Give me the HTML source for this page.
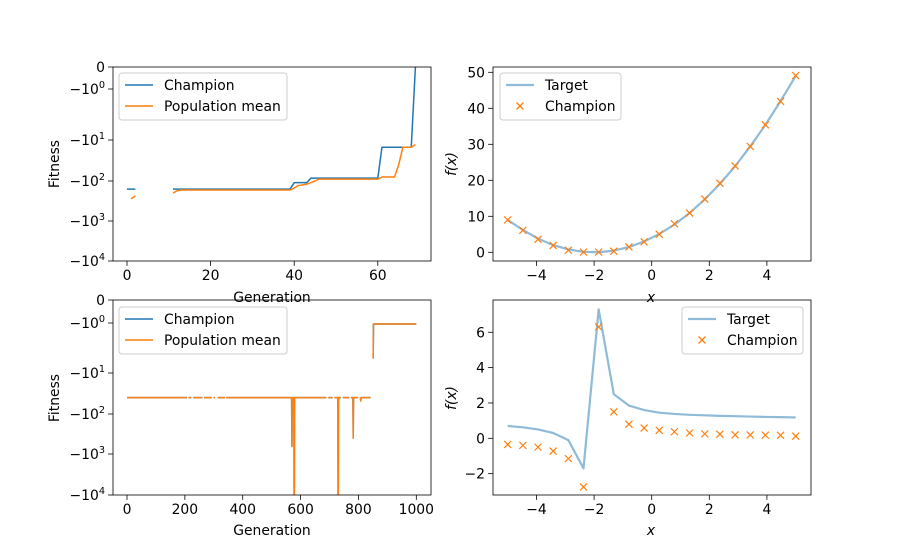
<!DOCTYPE html>
<html><head><meta charset="utf-8"><style>
body{margin:0;background:#fff}
svg{display:block;font-family:"DejaVu Sans","Liberation Sans",sans-serif}
</style></head><body>
<svg id="fig" width="900" height="556" viewBox="0 0 900 556" xmlns="http://www.w3.org/2000/svg">
<defs>
<clipPath id="c1"><rect x="113" y="67" width="318" height="194"/></clipPath>
<clipPath id="c2"><rect x="113" y="300" width="318" height="195"/></clipPath>
</defs>
</svg>
<script>
// ---------- data ----------
// Top-left: generations and fitness (null = missing)
const tlGens = [0,1,2,3,10,11,12,13,20,30,39,40,41,42,43,44,45,46,50,55,60,61,62,63,64,65,66,67,68,69];
const tlChampion = [-160,-160,-160,null,null,-160,-160,-160,-160,-160,-160,-110,-110,-110,-110,-85,-85,-85,-85,-85,-85,-15,-15,-15,-15,-15,-15,-15,-15,0];
const tlMean = [null,-280,-235,null,null,-200,-175,-168,-168,-168,-168,-150,-130,-125,-120,-110,-100,-90,-90,-90,-90,-80,-80,-80,-80,-40,-15,-15,-15,-13];
// Bottom-left: runs [start, end, value], spikes, and gaps
const blRunStart = [0,850,852];
const blRunEnd = [849,851,1000];
const blRunValue = [-40,-5,-1.05];
const blSpikeGens = [570,578,730,782,808];
const blSpikeVals = [-650,-100000,-100000,-400,-48];
const blGapStart = [208,224,262,294,305,340,690,712,740,770,800,843];
const blGapEnd = [212,228,266,298,312,342,695,716,745,773,806,849];
// Right panels: x samples
const xs = [-5,-4.474,-3.947,-3.421,-2.895,-2.368,-1.842,-1.316,-0.789,-0.263,0.263,0.789,1.316,1.842,2.368,2.895,3.421,3.947,4.474,5];
const trTarget = [9,6.2,3.8,2.0,0.8,0.14,0.02,0.47,1.46,3.0,5.1,7.7,10.9,14.7,19.0,23.9,29.4,35.4,42.0,49];
const trChampion = [9,6.1,3.6,1.9,0.6,0.05,0.05,0.3,1.5,2.9,5,7.9,10.9,14.8,19.2,24,29.4,35.4,41.9,49.1];
const brTarget = [0.7,0.62,0.5,0.3,-0.1,-1.7,7.3,2.5,1.85,1.6,1.45,1.38,1.33,1.3,1.27,1.25,1.23,1.21,1.2,1.18];
const brChampion = [-0.35,-0.4,-0.5,-0.72,-1.15,-2.75,6.3,1.5,0.8,0.58,0.45,0.37,0.3,0.25,0.23,0.2,0.19,0.18,0.17,0.12];
const tlXTicks = [0,20,40,60];
const blXTicks = [0,200,400,600,800,1000];
const rXTicks = [-4,-2,0,2,4];
const trYTicks = [0,10,20,30,40,50];
const brYTicks = [-2,0,2,4,6];
const symExps = [0,1,2,3,4];

// ---------- helpers ----------
const NS='http://www.w3.org/2000/svg';
const svg=document.getElementById('fig');
function mk(tag,attrs,parent){const e=document.createElementNS(NS,tag);for(const k in attrs)e.setAttribute(k,attrs[k]);(parent||svg).appendChild(e);return e;}
const BLUE='#1f77b4',ORANGE='#ff7f0e';

// symlog axis: anchor pixel of 0, -1, -10, ... -1e4
function symY(anchors){
  return v=>{const a=Math.abs(v);
    if(a<=1)return anchors[0]+(anchors[1]-anchors[0])*a;
    const l=Math.log10(a);const i=Math.floor(l);
    if(i>=4)return anchors[5]+(anchors[5]-anchors[4])*(l-4);
    return anchors[i+1]+(anchors[i+2]-anchors[i+1])*(l-i);};
}
const tlY=symY([67,89,140,181,221,261]);
const blY=symY([300,323,373,414,454,495]);
const tlX=g=>127+g*4.18;
const blX=g=>127+g*0.2893;
const rX=x=>651.7+x*28.8;
const trY=v=>252.3-v*3.6;
const brY=v=>438.3-v*17.67;

function frame(x,y,w,h,name){
  const r=mk('rect',{x,y,width:w,height:h,fill:'none',stroke:'#000','stroke-width':0.8});
  
}
function xtick(px,y,label,name){
  mk('line',{x1:px,x2:px,y1:y,y2:y+4.9,stroke:'#000','stroke-width':0.8});
  const t=mk('text',{x:px,y:y+19,'font-size':13.9,'text-anchor':'middle',fill:'#000'});
  t.textContent=label;
  
}
function ytick(x,py,label,name){
  mk('line',{x1:x,x2:x-4.9,y1:py,y2:py,stroke:'#000','stroke-width':0.8});
  const t=mk('text',{x:x-8,y:py+5,'font-size':13.9,'text-anchor':'end',fill:'#000'});
  t.textContent=label;
  
}
function ysym(x,py,exp,name){
  mk('line',{x1:x,x2:x-4.9,y1:py,y2:py,stroke:'#000','stroke-width':0.8});
  const t=mk('text',{x:x-8,y:py+5,'font-size':13.9,'text-anchor':'end',fill:'#000'});
  const a=mk('tspan',{},t);a.textContent='\u221210';
  const b=mk('tspan',{dy:-6,'font-size':9.7},t);b.textContent=String(exp);
  
}
function path(pts,attrs,name,clip){
  let d='',pen=false;
  pts.forEach(p=>{if(p==null){pen=false;return;}d+=(pen?'L':'M')+p[0].toFixed(2)+' '+p[1].toFixed(2);pen=true;});
  const a=Object.assign({d,fill:'none','stroke-linejoin':'round'},attrs);
  if(clip)a['clip-path']='url(#'+clip+')';
  const e=mk('path',a);
  
  return e;
}
function label(x,y,txt,name,rot,italic){
  const a={x,y,'font-size':13.9,'text-anchor':'middle',fill:'#000'};
  if(rot)a.transform='rotate(-90 '+x+' '+y+')';
  if(italic)a['font-style']='italic';
  const t=mk('text',a);t.textContent=txt;
  
}
function legend(x,y,w,entries,name){
  const g=mk('g',{});
  
  mk('rect',{x,y,width:w,height:47,rx:3,fill:'#fff','fill-opacity':0.8,stroke:'#ccc','stroke-width':1},g);
  entries.forEach((e,i)=>{
    const cy=y+12+i*21;
    const eg=mk('g',{},g);
    
    
    if(e.type==='line')mk('line',{x1:x+6,x2:x+34,y1:cy,y2:cy,stroke:e.color,'stroke-width':e.w||1.5,'stroke-opacity':e.op||1},eg);
    else mk('path',{d:`M${x+16.5} ${cy-3.5}l7 7M${x+16.5} ${cy+3.5}l7 -7`,stroke:ORANGE,'stroke-width':1.3},eg);
    const t=mk('text',{x:x+45,y:cy+5,'font-size':13.9,fill:'#000'},eg);t.textContent=e.label;
  });
}
function xmarks(xsv,ys,fx,fy,name){
  const g=mk('g',{});
  
  xsv.forEach((x,i)=>{const px=fx(x),py=fy(ys[i]);
    const m=mk('path',{d:`M${px-3.5} ${py-3.5}l7 7M${px-3.5} ${py+3.5}l7 -7`,stroke:ORANGE,'stroke-width':1.2},g);
    });
}

// ---------- top-left ----------
path(tlGens.map((g,i)=>tlChampion[i]==null?null:[tlX(g),tlY(tlChampion[i])]),{stroke:BLUE,'stroke-width':1.5},'champion-line-top','c1');
path(tlGens.map((g,i)=>tlMean[i]==null?null:[tlX(g),tlY(tlMean[i])]),{stroke:ORANGE,'stroke-width':1.5},'mean-line-top','c1');
frame(113,67,318,194,'top-left-axes');
tlXTicks.forEach(v=>xtick(tlX(v),261,String(v),'x-tick-label'));
ytick(113,67,'0','y-tick-label');
symExps.forEach(e=>ysym(113,tlY(-Math.pow(10,e)),e,'y-tick-label'));
label(272,302,'Generation','x-axis-title-top');
label(59,164,'Fitness','y-axis-title-top',true);
legend(119,73,168,[{type:'line',color:BLUE,label:'Champion'},{type:'line',color:ORANGE,label:'Population mean'}],'legend-top-left');

// ---------- bottom-left ----------
function blSeries(){
  const vals=new Array(1001).fill(null);
  blRunStart.forEach((s,i)=>{for(let g=s;g<=blRunEnd[i];g++)vals[g]=blRunValue[i];});
  blSpikeGens.forEach((g,i)=>{vals[g]=blSpikeVals[i];});
  blGapStart.forEach((s,i)=>{for(let g=s;g<=blGapEnd[i];g++)vals[g]=null;});
  return vals.map((v,g)=>v==null?null:[blX(g),blY(v)]);
}
const blPts=blSeries();
path(blPts,{stroke:BLUE,'stroke-width':1.5},'champion-line-bottom','c2');
path(blPts,{stroke:ORANGE,'stroke-width':1.5},'mean-line-bottom','c2');
frame(113,300,318,195,'bottom-left-axes');
blXTicks.forEach(v=>xtick(blX(v),495,String(v),'x-tick-label'));
ytick(113,300,'0','y-tick-label');
symExps.forEach(e=>ysym(113,blY(-Math.pow(10,e)),e,'y-tick-label'));
label(272,535,'Generation','x-axis-title-bottom');
label(59,398,'Fitness','y-axis-title-bottom',true);
legend(119,307,168,[{type:'line',color:BLUE,label:'Champion'},{type:'line',color:ORANGE,label:'Population mean'}],'legend-bottom-left');

// ---------- top-right ----------
path(xs.map((x,i)=>[rX(x),trY(trTarget[i])]),{stroke:BLUE,'stroke-width':2.2,'stroke-opacity':0.5},'target-line-top');
xmarks(xs,trChampion,rX,trY,'champion-markers-top');
frame(493,67,318,194,'top-right-axes');
rXTicks.forEach(v=>xtick(rX(v),261,v<0?'\u2212'+(-v):String(v),'x-tick-label'));
trYTicks.forEach(v=>ytick(493,trY(v),String(v),'y-tick-label'));
label(651,302,'x','x-axis-title-top-right',false,true);
label(456,164,'f(x)','y-axis-title-top-right',true,true);
legend(500,73,121,[{type:'line',color:BLUE,label:'Target',w:2.2,op:0.5},{type:'x',label:'Champion'}],'legend-top-right');

// ---------- bottom-right ----------
path(xs.map((x,i)=>[rX(x),brY(brTarget[i])]),{stroke:BLUE,'stroke-width':2.2,'stroke-opacity':0.5},'target-line-bottom');
xmarks(xs,brChampion,rX,brY,'champion-markers-bottom');
frame(493,300,318,195,'bottom-right-axes');
rXTicks.forEach(v=>xtick(rX(v),495,v<0?'\u2212'+(-v):String(v),'x-tick-label'));
brYTicks.forEach(v=>ytick(493,brY(v),v<0?'\u2212'+(-v):String(v),'y-tick-label'));
label(651,535,'x','x-axis-title-bottom-right',false,true);
label(456,398,'f(x)','y-axis-title-bottom-right',true,true);
legend(682,307,121,[{type:'line',color:BLUE,label:'Target',w:2.2,op:0.5},{type:'x',label:'Champion'}],'legend-bottom-right');
</script>
</body></html>
